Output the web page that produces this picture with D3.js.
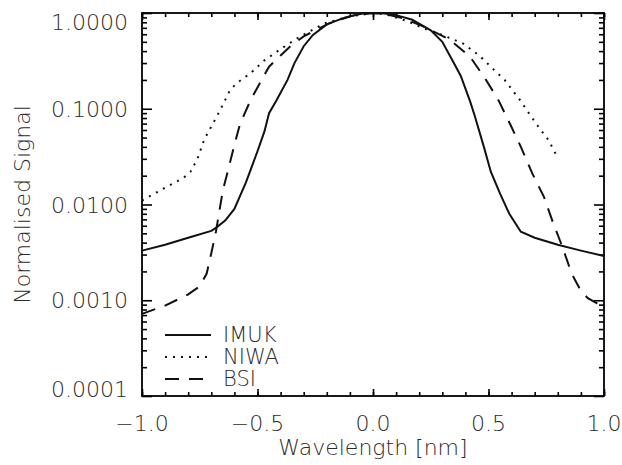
<!DOCTYPE html>
<html>
<head>
<meta charset="utf-8">
<script src="https://cdn.jsdelivr.net/npm/d3@7"></script>
<style>
body { margin: 0; background: #fff; }
text { font-family: "DejaVu Sans", sans-serif; font-weight: 200; fill: #2b2b2b; font-size: 22px; }
</style>
</head>
<body>
<div id="chart"></div>
<script>
// datos
var wlImuk  = [-1.0, -0.9, -0.8, -0.7, -0.68, -0.64, -0.6, -0.55, -0.5, -0.47, -0.45, -0.42, -0.37, -0.34, -0.3, -0.26, -0.2, -0.12, -0.05, 0.0, 0.05, 0.1, 0.17, 0.25, 0.3, 0.35, 0.38, 0.42, 0.44, 0.48, 0.51, 0.55, 0.59, 0.64, 0.7, 0.8, 0.9, 1.0];
var sigImuk = [0.0033, 0.0038, 0.0045, 0.0053, 0.0057, 0.0068, 0.009, 0.017, 0.036, 0.058, 0.09, 0.12, 0.2, 0.3, 0.45, 0.59, 0.76, 0.9, 0.98, 1.0, 0.99, 0.95, 0.85, 0.66, 0.5, 0.3, 0.22, 0.12, 0.085, 0.04, 0.022, 0.013, 0.008, 0.0052, 0.0045, 0.0038, 0.0033, 0.0029];

var wlNiwa  = [-1.0, -0.9, -0.82, -0.79, -0.76, -0.73, -0.69, -0.65, -0.62, -0.59, -0.53, -0.47, -0.4, -0.32, -0.21, -0.1, 0.0, 0.06, 0.15, 0.22, 0.3, 0.39, 0.46, 0.52, 0.57, 0.6, 0.64, 0.68, 0.72, 0.76, 0.79];
var sigNiwa = [0.011, 0.015, 0.019, 0.022, 0.03, 0.048, 0.072, 0.11, 0.155, 0.185, 0.235, 0.32, 0.42, 0.56, 0.78, 0.92, 1.0, 0.96, 0.82, 0.69, 0.59, 0.48, 0.36, 0.26, 0.2, 0.16, 0.12, 0.086, 0.063, 0.047, 0.034];

var wlBsi  = [-1.0, -0.9, -0.8, -0.75, -0.72, -0.7, -0.68, -0.65, -0.625, -0.6, -0.575, -0.53, -0.49, -0.45, -0.4, -0.36, -0.3, -0.19, -0.08, 0.0, 0.05, 0.13, 0.22, 0.33, 0.42, 0.485, 0.543, 0.595, 0.64, 0.69, 0.74, 0.78, 0.82, 0.86, 0.9, 0.93, 0.97, 1.0];
var sigBsi = [0.00072, 0.00088, 0.00115, 0.0014, 0.0019, 0.0031, 0.0052, 0.014, 0.024, 0.042, 0.07, 0.123, 0.185, 0.275, 0.36, 0.445, 0.57, 0.78, 0.95, 1.0, 0.98, 0.88, 0.72, 0.53, 0.35, 0.208, 0.123, 0.068, 0.04, 0.021, 0.012, 0.0064, 0.0036, 0.0019, 0.00125, 0.00105, 0.00093, 0.00085];

var seriesNames = ["IMUK", "NIWA", "BSI"];
var seriesDash  = [null, "2,6", "14,10"];

var xTickValues = [-1.0, -0.5, 0.0, 0.5, 1.0];
var xTickLabels = ["\u22121.0", "\u22120.5", "0.0", "0.5", "1.0"];
var yTickValues = [1, 0.1, 0.01, 0.001, 0.0001];
var yTickLabels = ["1.0000", "0.1000", "0.0100", "0.0010", "0.0001"];

var W = 622, H = 465;
var margin = {top: 13, right: 18, bottom: 69, left: 142};
var w = W - margin.left - margin.right,
	h = H - margin.top - margin.bottom;

var svg = d3.select("#chart").append("svg")
			.attr("width", W)
			.attr("height", H);
var g = svg.append("g")
			.attr("transform", "translate(" + margin.left + "," + margin.top + ")");

var x = d3.scaleLinear().domain([-1, 1]).range([0, w]);
var y = d3.scaleLog().domain([0.0001, 1]).range([h, 0]);

// ticks menores
var xMinor = d3.range(-10, 11).map(function(d) { return d / 10; });
var yMinor = [];
[-4, -3, -2, -1].forEach(function(k) {
	for (var m = 2; m <= 9; m++) yMinor.push(m * Math.pow(10, k));
});

function tickAxis(axis, values, size, tr) {
	var a = g.append("g")
			.attr("transform", tr)
			.call(axis.tickValues(values).tickSize(size).tickFormat(""));
	a.select(".domain").remove();
	a.selectAll("line").attr("stroke", "#000").attr("stroke-width", 1.6);
	return a;
}
tickAxis(d3.axisBottom(x), xMinor, -4, "translate(0," + h + ")");
tickAxis(d3.axisBottom(x), xTickValues, -7, "translate(0," + h + ")");
tickAxis(d3.axisTop(x), xMinor, -4, "translate(0,0)");
tickAxis(d3.axisTop(x), xTickValues, -7, "translate(0,0)");
tickAxis(d3.axisLeft(y), yMinor, -5, "translate(0,0)");
tickAxis(d3.axisLeft(y), yTickValues, -10, "translate(0,0)");
tickAxis(d3.axisRight(y), yMinor, -5, "translate(" + w + ",0)");
tickAxis(d3.axisRight(y), yTickValues, -10, "translate(" + w + ",0)");

// marco
g.append("rect")
	.attr("width", w)
	.attr("height", h)
	.attr("fill", "none")
	.attr("stroke", "#000")
	.attr("stroke-width", 1.8);

// etiquetas
g.selectAll(".xlab").data(xTickValues).enter()
	.append("text")
	.attr("x", function(d) { return x(d); })
	.attr("y", h + 35)
	.attr("text-anchor", "middle")
	.text(function(d, i) { return xTickLabels[i]; });

g.selectAll(".ylab").data(yTickValues).enter()
	.append("text")
	.attr("x", -14)
	.attr("y", function(d, i) {
		if (i == 0) return y(d) + 17;
		if (i == yTickValues.length - 1) return y(d) + 1;
		return y(d) + 8;
	})
	.attr("text-anchor", "end")
	.text(function(d, i) { return yTickLabels[i]; });

g.append("text")
	.attr("x", w / 2)
	.attr("y", h + 59)
	.attr("text-anchor", "middle")
	.text("Wavelength [nm]");

svg.append("text")
	.attr("transform", "translate(30," + (margin.top + h / 2) + ") rotate(-90)")
	.attr("text-anchor", "middle")
	.text("Normalised Signal");

// curvas
var series = [
	{wl: wlImuk, sig: sigImuk},
	{wl: wlNiwa, sig: sigNiwa},
	{wl: wlBsi, sig: sigBsi}
];
var line = d3.line()
			.x(function(d) { return x(d[0]); })
			.y(function(d) { return y(d[1]); });

series.forEach(function(s, i) {
	var pts = s.wl.map(function(v, j) { return [v, s.sig[j]]; });
	g.append("path")
		.datum(pts)
		.attr("d", line)
		.attr("fill", "none")
		.attr("stroke", "#111")
		.attr("stroke-width", 2)
		.attr("stroke-dasharray", seriesDash[i]);
});

// leyenda
var leg = g.append("g").attr("transform", "translate(23,322)");
seriesNames.forEach(function(name, i) {
	leg.append("line")
		.attr("x1", 0).attr("x2", 46)
		.attr("y1", i * 22).attr("y2", i * 22)
		.attr("stroke", "#111")
		.attr("stroke-width", 2)
		.attr("stroke-dasharray", seriesDash[i]);
	leg.append("text")
		.attr("x", 58)
		.attr("y", i * 22 + 7)
		.style("font-size", "21px")
		.text(name);
});
</script>
</body>
</html>
